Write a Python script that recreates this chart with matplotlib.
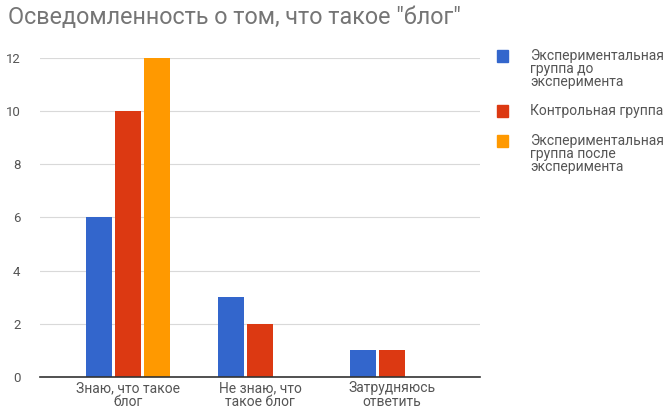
import numpy as np
import matplotlib
matplotlib.use('Agg')
import matplotlib.pyplot as plt
from matplotlib.patches import Rectangle

plt.rcParams['font.family'] = ['Roboto', 'DejaVu Sans']

# Data
categories = ['Знаю, что такое\nблог', 'Не знаю, что\nтакое блог', 'Затрудняюсь\nответить']
series_names = ['Экспериментальная\nгруппа до\nэксперимента',
                'Контрольная группа',
                'Экспериментальная\nгруппа после\nэксперимента']
exp_before = [6, 3, 1]
control = [10, 2, 1]
exp_after = [12, 0, 0]
colors = ['#3366cc', '#dc3912', '#ff9900']

W, H = 671, 413
fig = plt.figure(figsize=(W / 100, H / 100), dpi=100)
ax = fig.add_axes([0.0596, 0.0872, 0.6557, 0.7724])

x = np.arange(len(categories))
w = 0.2
slot = 0.22
for i, (vals, col, name) in enumerate(zip([exp_before, control, exp_after], colors, series_names)):
    ax.bar(x + (i - 1) * slot, vals, width=w, color=col, label=name, zorder=3)

ax.set_xlim(-0.667, 2.667)
ax.set_ylim(0, 12)
ax.set_yticks([0, 2, 4, 6, 8, 10, 12])
ax.set_xticks(x)
ax.set_xticklabels(categories, fontsize=10, color='#555555', linespacing=0.95)
ax.tick_params(axis='y', labelsize=9.5, labelcolor='#555555', length=0, pad=14)
ax.tick_params(axis='x', length=0, pad=3)
ax.grid(axis='y', color='#d9d9d9', linewidth=0.8, zorder=0)
for s in ['top', 'right', 'left']:
    ax.spines[s].set_visible(False)
ax.spines['bottom'].set_color('#333333')
ax.spines['bottom'].set_linewidth(1.2)
ax.spines['bottom'].set_zorder(4)

fig.text(8 / W, 1 - 18 / H, 'Осведомленность о том, что такое "блог"', fontsize=16.8,
         color='#757575', va='center', ha='left')

# legend, drawn by hand so the swatch sits on the first line
legend_y = [56, 111, 141]
for name, col, yy in zip(series_names, colors, legend_y):
    fig.patches.append(Rectangle((497 / W, 1 - (yy + 6) / H), 11 / W, 12 / H,
                                 color=col, transform=fig.transFigure, figure=fig))
    fig.text(530 / W, 1 - (yy - 7) / H, name, fontsize=10, color='#555555',
             va='top', ha='left', linespacing=0.93)

fig.savefig('out.png', dpi=100)
